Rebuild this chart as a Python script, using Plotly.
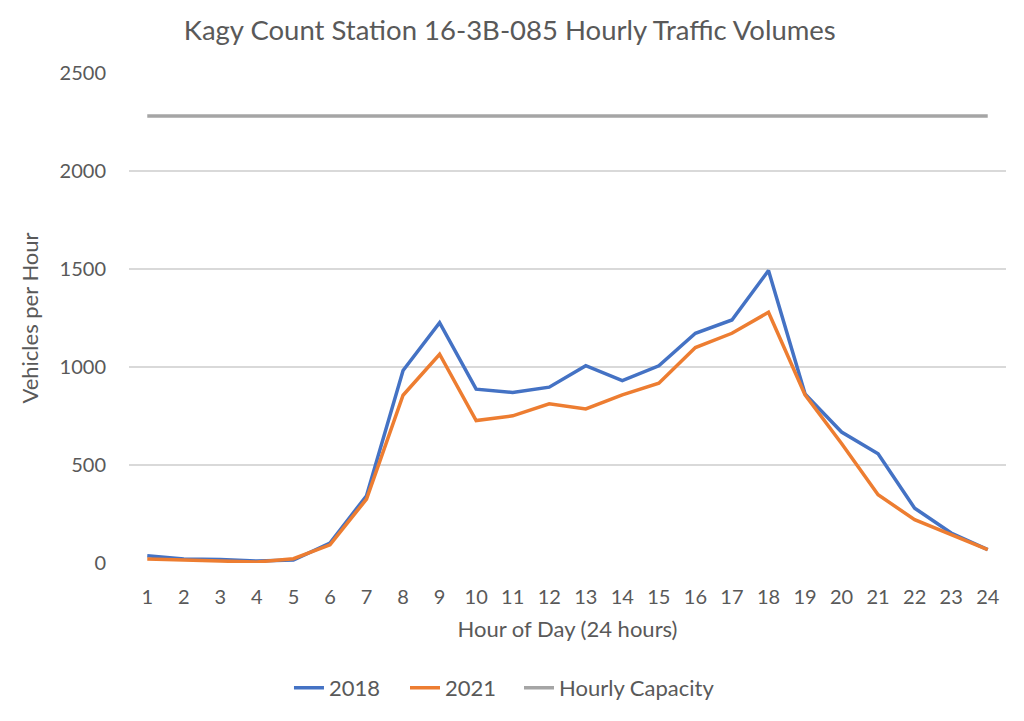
import plotly.graph_objects as go

hours = list(range(1, 25))
vol_2018 = [37, 20, 18, 10, 15, 102, 343, 982, 1226, 887, 870, 897, 1007, 931, 1006, 1172, 1240, 1492, 863, 668, 557, 280, 153, 68]
vol_2021 = [20, 13, 10, 5, 22, 93, 326, 856, 1065, 727, 751, 812, 786, 858, 917, 1099, 1172, 1279, 858, 610, 348, 221, 144, 68]
capacity = [2280] * 24

FONT = "Lato"
TXT = "#595959"

fig = go.Figure()
fig.add_trace(go.Scatter(x=hours, y=vol_2018, mode="lines", name="2018",
                         line=dict(color="#4472C4", width=3.5), legend="legend"))
fig.add_trace(go.Scatter(x=hours, y=vol_2021, mode="lines", name="2021",
                         line=dict(color="#ED7D31", width=3.5), legend="legend2"))
fig.add_trace(go.Scatter(x=hours, y=capacity, mode="lines", name="Hourly Capacity",
                         line=dict(color="#A5A5A5", width=3.5), legend="legend3"))

leg_common = dict(orientation="h", xanchor="left", y=-0.255, yanchor="middle",
                  font=dict(size=22, color=TXT), bgcolor="rgba(0,0,0,0)")

fig.update_layout(
    width=1024, height=721,
    paper_bgcolor="white", plot_bgcolor="white",
    margin=dict(l=121, r=26, t=65, b=166, autoexpand=False),
    font=dict(family=FONT, color=TXT, size=20),
    title=dict(text="Kagy Count Station 16-3B-085 Hourly Traffic Volumes",
               x=0.49, xanchor="center", y=0.969, yanchor="middle",
               font=dict(size=27.5, color=TXT, family=FONT)),
    xaxis=dict(range=[0.5, 24.5], tickmode="array", tickvals=hours,
               ticktext=[str(h) for h in hours], showgrid=False, zeroline=False,
               showline=False, ticks="", tickfont=dict(size=20, color=TXT),
               ticklabelstandoff=20, automargin=False,
               title=dict(text="Hour of Day (24 hours)", font=dict(size=22, color=TXT), standoff=14)),
    yaxis=dict(range=[0, 2500], tickvals=[0, 500, 1000, 1500, 2000, 2500],
               showgrid=True, gridcolor="#D9D9D9", gridwidth=1.5, zeroline=False,
               showline=False, ticks="", tickfont=dict(size=20, color=TXT),
               ticklabelstandoff=22, automargin=False,
               title=dict(text="Vehicles per Hour", font=dict(size=22, color=TXT), standoff=14)),
    legend=dict(x=0.1824, **leg_common),
    legend2=dict(x=0.3147, **leg_common),
    legend3=dict(x=0.4447, **leg_common),
    showlegend=True,
)

fig.write_html("out.html")
